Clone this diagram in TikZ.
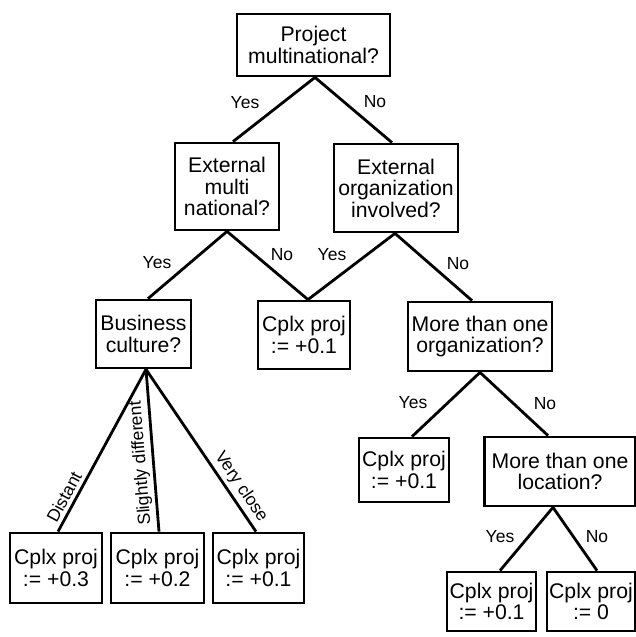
\documentclass[tikz,border=0pt]{standalone}
\usepackage{fontspec}
\setmainfont{Liberation Sans}
\begin{document}
\begin{tikzpicture}[x=1pt,y=-1pt]
\tikzset{
  box/.style={draw, line width=2.8pt, inner sep=0pt, align=center, font=\fontsize{21.2}{21.5}\selectfont},
  lbl/.style={font=\fontsize{17.5}{17.5}\selectfont, inner sep=0pt},
  conn/.style={line width=2.8pt},
}
\useasboundingbox (0,0) rectangle (636,637);

\node[box, minimum width=153pt, minimum height=62pt] (top) at (313.5,45) {Project\\multinational?};
\node[box, minimum width=104pt, minimum height=87pt] (extm) at (227,186.5) {External\\multi\\national?};
\node[box, minimum width=124pt, minimum height=88pt] (extorg) at (396,188) {External\\organization\\involved?};
\node[box, minimum width=95pt, minimum height=68pt] (bus) at (143.5,334) {Business\\culture?};
\node[box, minimum width=92pt, minimum height=68pt] (cmid) at (304,335) {Cplx proj\\:= +0.1};
\node[box, minimum width=144pt, minimum height=69pt] (morg) at (480,336.5) {More than one\\organization?};
\node[box, minimum width=92pt, minimum height=70pt] (b1) at (56,568) {Cplx proj\\:= +0.3};
\node[box, minimum width=93pt, minimum height=70pt] (b2) at (157.5,568) {Cplx proj\\:= +0.2};
\node[box, minimum width=91pt, minimum height=70pt] (b3) at (258.5,568) {Cplx proj\\:= +0.1};
\node[box, minimum width=90pt, minimum height=64pt] (cl) at (404,470) {Cplx proj\\:= +0.1};
\node[box, minimum width=151pt, minimum height=69pt] (mloc) at (560,471.5) {More than one\\location?};
\node[box, minimum width=89pt, minimum height=59pt] (bl) at (491.5,601.5) {Cplx proj\\:= +0.1};
\node[box, minimum width=88pt, minimum height=59pt] (br) at (591,601.5) {Cplx proj\\:= 0};

\draw[conn] ([xshift=1.5pt]top.south) -- ([xshift=6pt]extm.north);
\draw[conn] ([xshift=1.5pt]top.south) -- ([xshift=-4pt]extorg.north);
\draw[conn] (extm.south) -- ([xshift=4.5pt]bus.north);
\draw[conn] (extm.south) -- ([xshift=4pt]cmid.north);
\draw[conn] ([xshift=-1pt]extorg.south) -- ([xshift=4pt]cmid.north);
\draw[conn] ([xshift=-1pt]extorg.south) -- ([xshift=-8pt]morg.north);
\draw[conn] ([xshift=2.5pt]bus.south) -- ([xshift=2pt]b1.north);
\draw[conn] ([xshift=2.5pt]bus.south) -- ([xshift=1.5pt]b2.north);
\draw[conn] ([xshift=2.5pt]bus.south) -- ([xshift=-2.5pt]b3.north);
\draw[conn] (morg.south) -- ([xshift=8pt]cl.north);
\draw[conn] (morg.south) -- ([xshift=-12pt]mloc.north);
\draw[conn] ([xshift=-7pt]mloc.south) -- ([xshift=8.5pt]bl.north);
\draw[conn] ([xshift=-7pt]mloc.south) -- ([xshift=6pt]br.north);

\node[lbl] (l1) at (245,103) {Yes};
\node[lbl] (l2) at (375,102) {No};
\node[lbl] (l3) at (157,263) {Yes};
\node[lbl] (l4) at (282,255) {No};
\node[lbl] (l5) at (332,255) {Yes};
\node[lbl] (l6) at (458,264) {No};
\node[lbl] (l7) at (413,403) {Yes};
\node[lbl] (l8) at (545,404) {No};
\node[lbl] (l9) at (500,537) {Yes};
\node[lbl] (l10) at (597,537) {No};
\node[lbl, rotate=61.6] (l11) at (64,497) {Distant};
\node[lbl, rotate=94.6] (l12) at (141,463) {Slightly different};
\node[lbl, rotate=-56] (l13) at (241,487) {Very close};
\end{tikzpicture}
\end{document}
